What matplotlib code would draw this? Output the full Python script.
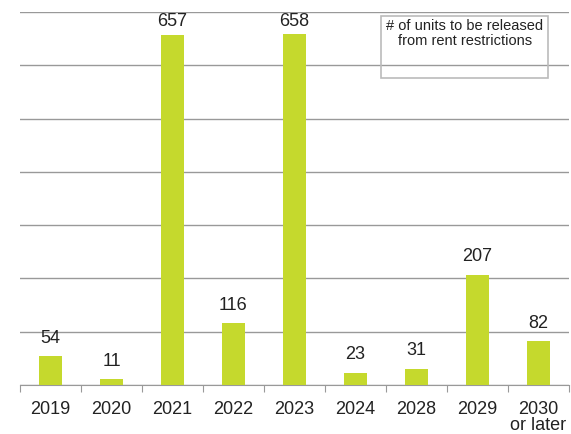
import matplotlib.pyplot as plt
from matplotlib.patches import Rectangle

plt.rcParams['font.family'] = ['Liberation Sans', 'DejaVu Sans']

years = ['2019', '2020', '2021', '2022', '2023', '2024', '2028', '2029', '2030\nor later']
units = [54, 11, 657, 116, 658, 23, 31, 207, 82]

fig = plt.figure(figsize=(5.71, 4.35), dpi=100)
ax = fig.add_axes([0.035, 0.1126, 0.9615, 0.8574])

x = range(len(years))
ax.bar(x, units, width=0.38, color='#C5D92D', zorder=3)
# value labels above bars, kept below the top gridline
for i, v in enumerate(units):
    ax.text(i, min(v + 20, 668), str(v), ha='center', va='bottom', fontsize=13, color='#222222')

ax.set_xlim(-0.5, len(years) - 0.5)
ax.set_ylim(0, 700)
ax.set_yticks(range(0, 701, 100))
ax.yaxis.grid(True, color='#999999', linewidth=1)
ax.tick_params(axis='y', left=False, labelleft=False)

ax.set_xticks([i - 0.5 for i in range(len(years) + 1)], minor=False)
ax.set_xticklabels([])
ax.set_xticks(list(x), minor=True)
ax.set_xticklabels(years, minor=True, fontsize=13, color='#222222', linespacing=0.88, va='top')
ax.tick_params(axis='x', which='major', length=5, color='#999999')
ax.tick_params(axis='x', which='minor', length=0, pad=11)

for s in ['top', 'right', 'left']:
    ax.spines[s].set_visible(False)
ax.spines['bottom'].set_color('#999999')
ax.set_axisbelow(True)

# legend-style note box
box = Rectangle((381 / 571, 1 - 79 / 435), 167 / 571, 62 / 435, transform=fig.transFigure,
                fill=False, edgecolor='#bbbbbb', linewidth=1.2)
fig.patches.append(box)
fig.text(465 / 571, 1 - 19 / 435, '# of units to be released\nfrom rent restrictions',
         ha='center', va='top', fontsize=10.5, color='#222222', linespacing=1.05)

fig.savefig('out.png', dpi=100)
